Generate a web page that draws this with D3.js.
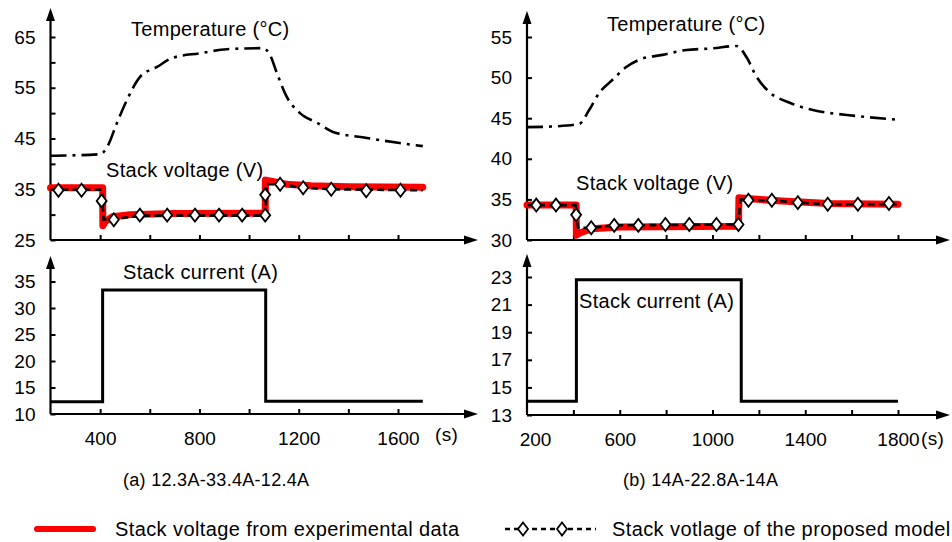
<!DOCTYPE html>
<html>
<head>
<meta charset="utf-8">
<script src="https://cdn.jsdelivr.net/npm/d3@7"></script>
<style>
body { margin: 0; background: #fff; }
svg { display: block; font-family: "Liberation Sans", Arial, sans-serif; }
</style>
</head>
<body>
<div id="chart"></div>
<script>
// ---- panel (a) 12.3A-33.4A-12.4A ----
var tempA_t = [200, 400, 428, 468, 508, 560, 629, 693, 802, 911, 1056, 1084, 1112, 1152, 1205, 1274, 1338, 1475, 1607, 1700];
var tempA_v = [41.6, 41.9, 43.3, 48.1, 52.6, 57.1, 59.1, 60.9, 61.8, 62.6, 62.8, 61.5, 57.9, 53.2, 50.0, 48.1, 46.3, 45.1, 44.1, 43.5];

var expA_t = [200, 410, 411, 420, 450, 520, 700, 1065, 1066, 1100, 1150, 1250, 1400, 1700];
var expA_v = [35.3, 35.3, 27.8, 28.6, 29.6, 30.0, 30.2, 30.3, 36.8, 36.5, 36.0, 35.7, 35.5, 35.4];

var modA_t = [200, 406, 414, 455, 560, 1065, 1072, 1125, 1218, 1331, 1700];
var modA_v = [34.9, 34.9, 29.0, 29.1, 29.8, 29.8, 36.0, 36.0, 35.3, 35.0, 34.8];
var markA_t = [232, 325, 406, 455, 560, 670, 782, 879, 972, 1065, 1065, 1125, 1218, 1331, 1472, 1610];
var markA_v = [34.8, 34.8, 32.7, 29.0, 29.9, 29.9, 29.9, 29.9, 29.9, 29.9, 33.9, 36.0, 35.3, 35.0, 34.7, 34.8];

var curA_t = [200, 410, 410, 1067, 1067, 1700];
var curA_v = [12.3, 12.3, 33.4, 33.4, 12.4, 12.4];

var topA_labels = [25, 35, 45, 55, 65];
var topA_minor = [30, 40, 50, 60];
var botA_labels = [10, 15, 20, 25, 30, 35];
var xA_ticks = [400, 600, 800, 1000, 1200, 1400, 1600];
var xA_labels = [400, 800, 1200, 1600];

// ---- panel (b) 14A-22.8A-14A ----
var tempB_t = [200, 325, 425, 468, 511, 568, 628, 684, 784, 887, 1000, 1104, 1147, 1190, 1246, 1333, 1433, 1579, 1679, 1800];
var tempB_v = [43.9, 44.0, 44.3, 46.0, 48.1, 49.7, 51.3, 52.2, 52.8, 53.4, 53.6, 53.9, 52.5, 50.1, 48.2, 46.9, 46.0, 45.4, 45.1, 44.8];

var expB_t = [200, 412, 413, 430, 480, 600, 1112, 1114, 1150, 1300, 1500, 1800];
var expB_v = [34.3, 34.3, 30.6, 30.9, 31.4, 31.6, 31.7, 35.2, 35.1, 34.8, 34.5, 34.4];

var modB_t = [200, 410, 420, 477, 576, 1112, 1120, 1155, 1256, 1368, 1497, 1800];
var modB_v = [34.3, 34.3, 31.5, 31.5, 31.8, 31.9, 35.0, 34.9, 34.9, 34.6, 34.4, 34.4];
var markB_t = [240, 325, 412, 477, 576, 680, 797, 900, 1017, 1112, 1155, 1256, 1368, 1497, 1627, 1761];
var markB_v = [34.3, 34.3, 33.1, 31.5, 31.8, 31.8, 31.9, 31.9, 31.9, 31.9, 34.9, 34.9, 34.6, 34.4, 34.4, 34.5];

var curB_t = [200, 413, 413, 1124, 1124, 1800];
var curB_v = [14, 14, 22.8, 22.8, 14, 14];

var topB_labels = [30, 35, 40, 45, 50, 55];
var botB_labels = [13, 15, 17, 19, 21, 23];
var xB_ticks = [400, 600, 800, 1000, 1200, 1400, 1600, 1800];
var xB_labels = [200, 600, 1000, 1400, 1800];

var svg = d3.select("#chart").append("svg")
    .attr("width", 952)
    .attr("height", 542);

var intFmt = d3.format("d");

function zip(t, v) {
    return t.map(function(d, i) { return [d, v[i]]; });
}

function arrowUp(x, yTip) {
    svg.append("path")
        .attr("d", "M" + x + "," + yTip + "L" + (x - 4.5) + "," + (yTip + 13) + "L" + (x + 4.5) + "," + (yTip + 13) + "Z")
        .attr("fill", "#000");
}
function arrowRight(xTip, y) {
    svg.append("path")
        .attr("d", "M" + xTip + "," + y + "L" + (xTip - 14) + "," + (y - 4.5) + "L" + (xTip - 14) + "," + (y + 4.5) + "Z")
        .attr("fill", "#000");
}

function styleAxis(g) {
    g.select(".domain").remove();
    g.selectAll(".tick line").attr("stroke", "#000").attr("stroke-width", 2);
    g.selectAll(".tick text").attr("fill", "#000").style("font-size", "19px")
        .style("font-family", "'Liberation Sans', Arial, sans-serif");
}

function label(x, y, txt, size) {
    svg.append("text")
        .attr("x", x).attr("y", y)
        .style("font-size", (size || 20) + "px")
        .style("letter-spacing", "0.3px")
        .text(txt);
}

var diamond = "M0,-6.5L5,0L0,6.5L-5,0Z";

function drawPanel(p) {
    var x = d3.scaleLinear().domain(p.xDomain).range(p.xRange);
    var yT = d3.scaleLinear().domain(p.topDomain).range(p.topRange);
    var yB = d3.scaleLinear().domain(p.botDomain).range(p.botRange);
    var x0 = p.xRange[0];

    // axis lines + arrows
    var axisLines = [
        [x0, yT.range()[0], x0, p.topTip + 6],
        [x0, yT.range()[0], p.xTip - 6, yT.range()[0]],
        [x0, yB.range()[0], x0, p.botTip + 6],
        [x0, yB.range()[0], p.xTip - 6, yB.range()[0]]
    ];
    axisLines.forEach(function(l) {
        svg.append("line").attr("x1", l[0]).attr("y1", l[1]).attr("x2", l[2]).attr("y2", l[3])
            .attr("stroke", "#000").attr("stroke-width", 2.2);
    });
    arrowUp(x0, p.topTip);
    arrowUp(x0, p.botTip);
    arrowRight(p.xTip, yT.range()[0]);
    arrowRight(p.xTip, yB.range()[0]);

    // top y axis
    svg.append("g").attr("transform", "translate(" + x0 + ",0)")
        .call(d3.axisLeft(yT).tickValues(p.topLabels).tickSizeInner(-5).tickSizeOuter(0).tickPadding(15).tickFormat(intFmt))
        .call(styleAxis);
    if (p.topMinor) {
        svg.append("g").attr("transform", "translate(" + x0 + ",0)")
            .call(d3.axisLeft(yT).tickValues(p.topMinor).tickSizeInner(-5).tickSizeOuter(0).tickFormat(""))
            .call(styleAxis);
    }
    // bottom y axis
    svg.append("g").attr("transform", "translate(" + x0 + ",0)")
        .call(d3.axisLeft(yB).tickValues(p.botLabels).tickSizeInner(-5).tickSizeOuter(0).tickPadding(15).tickFormat(intFmt))
        .call(styleAxis);

    // x axes
    svg.append("g").attr("transform", "translate(0," + yT.range()[0] + ")")
        .call(d3.axisBottom(x).tickValues(p.xTicks).tickSizeInner(-5).tickSizeOuter(0).tickFormat(""))
        .call(styleAxis);
    svg.append("g").attr("transform", "translate(0," + yB.range()[0] + ")")
        .call(d3.axisBottom(x).tickValues(p.xTicks).tickSizeInner(-5).tickSizeOuter(0).tickFormat(""))
        .call(styleAxis);
    var xl = svg.append("g").attr("transform", "translate(0," + yB.range()[0] + ")")
        .call(d3.axisBottom(x).tickValues(p.xLabels).tickSize(0).tickPadding(18).tickFormat(intFmt))
        .call(styleAxis);
    // label sitting on the axis origin is pushed a little to the right
    xl.selectAll(".tick text").filter(function(d) { return d === p.xDomain[0]; }).attr("dx", 8);

    // temperature
    var lineT = d3.line().x(function(d) { return x(d[0]); }).y(function(d) { return yT(d[1]); });
    svg.append("path")
        .attr("d", lineT.curve(d3.curveMonotoneX)(zip(p.temp_t, p.temp_v)))
        .attr("fill", "none").attr("stroke", "#000").attr("stroke-width", 2.6)
        .attr("stroke-dasharray", "16,6,3,6");

    lineT.curve(d3.curveLinear);
    // experimental voltage
    svg.append("path")
        .attr("d", lineT(zip(p.exp_t, p.exp_v)))
        .attr("fill", "none").attr("stroke", "#ff0000").attr("stroke-width", 7)
        .attr("stroke-linejoin", "round").attr("stroke-linecap", "round");
    // model voltage
    svg.append("path")
        .attr("d", lineT(zip(p.mod_t, p.mod_v)))
        .attr("fill", "none").attr("stroke", "#000").attr("stroke-width", 2.6)
        .attr("stroke-dasharray", "7,4");
    svg.append("g").selectAll("path")
        .data(zip(p.mark_t, p.mark_v))
        .join("path")
        .attr("d", diamond)
        .attr("transform", function(d) { return "translate(" + x(d[0]) + "," + yT(d[1]) + ")"; })
        .attr("fill", "#fff").attr("stroke", "#000").attr("stroke-width", 1.8);

    // current
    var lineB = d3.line().x(function(d) { return x(d[0]); }).y(function(d) { return yB(d[1]); });
    svg.append("path")
        .attr("d", lineB(zip(p.cur_t, p.cur_v)))
        .attr("fill", "none").attr("stroke", "#000").attr("stroke-width", 3);
}

drawPanel({
    xDomain: [200, 1600], xRange: [50.5, 398], xTip: 478,
    topDomain: [25, 65], topRange: [240, 37], topTip: 8,
    botDomain: [10, 35], botRange: [414, 281.5], botTip: 256,
    topLabels: topA_labels, topMinor: topA_minor, botLabels: botA_labels,
    xTicks: xA_ticks, xLabels: xA_labels,
    temp_t: tempA_t, temp_v: tempA_v, exp_t: expA_t, exp_v: expA_v,
    mod_t: modA_t, mod_v: modA_v, mark_t: markA_t, mark_v: markA_v,
    cur_t: curA_t, cur_v: curA_v
});

drawPanel({
    xDomain: [200, 1800], xRange: [527, 898], xTip: 950,
    topDomain: [30, 55], topRange: [240, 37], topTip: 11,
    botDomain: [13, 23], botRange: [415, 277], botTip: 254,
    topLabels: topB_labels, topMinor: null, botLabels: botB_labels,
    xTicks: xB_ticks, xLabels: xB_labels,
    temp_t: tempB_t, temp_v: tempB_v, exp_t: expB_t, exp_v: expB_v,
    mod_t: modB_t, mod_v: modB_v, mark_t: markB_t, mark_v: markB_v,
    cur_t: curB_t, cur_v: curB_v
});

// annotations
label(131, 36, "Temperature (\u00B0C)");
label(106, 177, "Stack voltage (V)");
label(123, 279, "Stack current (A)");
label(607, 31, "Temperature (\u00B0C)");
label(576, 190, "Stack voltage (V)");
label(579, 308, "Stack current (A)");
label(435, 441, "(s)", 19);
label(921, 445, "(s)", 19);
label(123, 486, "(a) 12.3A-33.4A-12.4A", 18);
label(623, 486, "(b) 14A-22.8A-14A", 18);

// legend
svg.append("line").attr("x1", 37).attr("y1", 529).attr("x2", 93).attr("y2", 529)
    .attr("stroke", "#ff0000").attr("stroke-width", 6).attr("stroke-linecap", "round");
svg.append("text").attr("x", 115).attr("y", 536)
    .style("font-size", "20px").style("letter-spacing", "0.4px")
    .text("Stack voltage from experimental data");
svg.append("line").attr("x1", 505).attr("y1", 529).attr("x2", 596).attr("y2", 529)
    .attr("stroke", "#000").attr("stroke-width", 2.6).attr("stroke-dasharray", "5,4");
[523, 562].forEach(function(cx) {
    svg.append("path").attr("d", diamond)
        .attr("transform", "translate(" + cx + ",529)")
        .attr("fill", "#fff").attr("stroke", "#000").attr("stroke-width", 1.8);
});
svg.append("text").attr("x", 612).attr("y", 536)
    .style("font-size", "20px").style("letter-spacing", "0.4px")
    .text("Stack votlage of the proposed model");
</script>
</body>
</html>
